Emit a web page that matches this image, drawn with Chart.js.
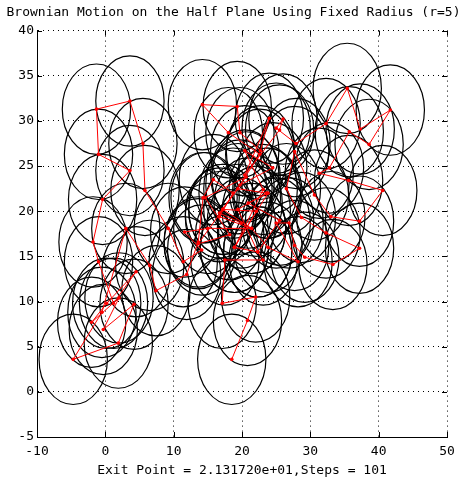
<!DOCTYPE html>
<html>
<head>
<meta charset="utf-8">
<script src="https://cdn.jsdelivr.net/npm/chart.js@4/dist/chart.umd.min.js"></script>
<style>
  html, body { margin: 0; padding: 0; background: #fff; }
  #wrap { width: 467px; height: 480px; }
</style>
</head>
<body>
<div id="wrap"><canvas id="chart" width="467" height="480"></canvas></div>
<script>
// walk positions
const pathX = [19.9, 16.7, 20.6, 14.6, 18.2, 13.6, 17.2, 19.4, 23.6, 19.4,
  22.3, 18.9, 23.1, 20.4, 24.5, 19.7, 22.6, 18.0, 14.2, 19.3,
  19.7, 22.7, 24.0, 20.4, 25.5, 26.0, 25.0, 27.9, 32.3, 35.4,
  37.3, 41.7, 38.6, 35.7, 32.8, 31.3, 35.6, 40.6, 37.2, 33.0,
  30.6, 27.7, 26.5, 28.7, 32.3, 37.2, 33.3, 29.2, 27.7, 26.9,
  25.0, 28.2, 23.8, 21.4, 15.0, 11.6, 14.1, 11.4, 9.2, 5.8,
  5.5, 3.6, -1.3, -1.0, 3.6, -0.4, -1.8, -1.0, 1.2, 4.5,
  0.2, -2.0, 2.0, -0.3, 4.2, 1.9, -4.7, -0.5, 3.0, 6.5,
  7.4, 11.9, 13.6, 14.3, 15.8, 18.7, 16.7, 21.4, 17.2, 22.1,
  18.9, 23.8, 20.9, 25.5, 22.3, 23.1, 17.5, 17.1, 22.0, 20.8,
  18.5];
const pathY = [18.7, 19.8, 23.8, 21.5, 17.4, 16.4, 20.2, 22.5, 22.0, 20.2,
  15.5, 16.0, 22.4, 26.7, 24.8, 22.9, 26.3, 28.7, 31.8, 31.6,
  28.7, 26.7, 30.3, 24.0, 29.0, 30.2, 29.2, 27.5, 29.7, 33.6,
  29.1, 31.2, 27.4, 28.8, 24.8, 24.2, 23.4, 22.3, 18.9, 19.4,
  21.8, 26.6, 22.5, 19.3, 17.6, 15.9, 14.1, 14.9, 16.2, 18.7,
  18.7, 14.4, 16.0, 18.1, 18.1, 17.7, 15.7, 14.4, 18.1, 22.3,
  27.5, 32.2, 31.3, 26.3, 24.5, 21.3, 16.6, 14.4, 9.8, 13.3,
  9.8, 7.7, 10.4, 6.9, 9.7, 5.4, 3.6, 8.8, 18.1, 14.0,
  11.2, 13.0, 16.6, 21.5, 23.5, 22.0, 19.4, 18.1, 20.2, 20.0,
  16.0, 22.0, 20.9, 19.0, 15.5, 14.6, 14.6, 9.8, 10.5, 7.9,
  3.6];
const radius = 5;

const xTicks = [-10, 0, 10, 20, 30, 40, 50];
const yTicks = [-5, 0, 5, 10, 15, 20, 25, 30, 35, 40];

const titleText = "Brownian Motion on the Half Plane Using Fixed Radius (r=5)";
const xLabel = "Exit Point = 2.131720e+01,Steps = 101";

const monoFont = { family: "'DejaVu Sans Mono', monospace", size: 13, weight: "normal" };

const points = pathX.map((x, i) => ({ x: x, y: pathY[i] }));

// circle of radius r round every position, sized by the scales
const circlePlugin = {
  id: "circles",
  beforeDatasetsDraw(chart) {
    const { ctx, chartArea, scales } = chart;
    const xs = scales.x, ys = scales.y;
    ctx.save();
    ctx.beginPath();
    ctx.rect(chartArea.left, chartArea.top, chartArea.width, chartArea.height);
    ctx.clip();
    ctx.strokeStyle = "#000";
    ctx.lineWidth = 1.2;
    points.forEach(p => {
      const cx = xs.getPixelForValue(p.x);
      const cy = ys.getPixelForValue(p.y);
      const rx = xs.getPixelForValue(p.x + radius) - cx;
      const ry = cy - ys.getPixelForValue(p.y + radius);
      ctx.beginPath();
      ctx.ellipse(cx, cy, rx, ry, 0, 0, Math.PI * 2);
      ctx.stroke();
    });
    ctx.restore();
  }
};

// small tick marks pointing into the plot
const tickPlugin = {
  id: "innerTicks",
  afterDraw(chart) {
    const { ctx, chartArea: a, scales } = chart;
    const len = 5;
    ctx.save();
    ctx.strokeStyle = "#000";
    ctx.lineWidth = 1;
    ctx.beginPath();
    xTicks.forEach(v => {
      const px = Math.round(scales.x.getPixelForValue(v)) + 0.5;
      ctx.moveTo(px, a.bottom); ctx.lineTo(px, a.bottom - len);
      ctx.moveTo(px, a.top); ctx.lineTo(px, a.top + len);
    });
    yTicks.forEach(v => {
      const py = Math.round(scales.y.getPixelForValue(v)) + 0.5;
      ctx.moveTo(a.left, py); ctx.lineTo(a.left + len, py);
      ctx.moveTo(a.right, py); ctx.lineTo(a.right - len, py);
    });
    ctx.stroke();
    ctx.restore();
  }
};

const chart = new Chart(document.getElementById("chart"), {
  type: "scatter",
  data: {
    datasets: [{
      data: points,
      showLine: true,
      borderColor: "#ff0000",
      borderWidth: 1,
      pointRadius: 1.8,
      pointBackgroundColor: "#ff0000",
      pointBorderWidth: 0,
      tension: 0
    }]
  },
  options: {
    responsive: false,
    animation: false,
    devicePixelRatio: 1,
    layout: { padding: 0 },
    plugins: {
      legend: { display: false },
      tooltip: { enabled: false },
      title: {
        display: true,
        text: titleText,
        color: "#000",
        font: monoFont,
        padding: { top: 5, bottom: 10 }
      }
    },
    scales: {
      x: {
        type: "linear",
        min: -10,
        max: 50,
        afterBuildTicks: s => { s.ticks = xTicks.map(v => ({ value: v })); },
        afterFit: s => { s.height = 43; },
        grid: { color: "#000", lineWidth: 1, drawTicks: false },
        border: { display: true, color: "#000", width: 1, dash: [1, 4] },
        ticks: { color: "#000", font: monoFont, padding: 7, maxRotation: 0 },
        title: { display: true, text: xLabel, color: "#000", font: monoFont, padding: { top: 0, bottom: 2 } }
      },
      y: {
        type: "linear",
        min: -5,
        max: 40,
        afterBuildTicks: s => { s.ticks = yTicks.map(v => ({ value: v })); },
        afterFit: s => { s.width = 37; },
        grid: { color: "#000", lineWidth: 1, drawTicks: false },
        border: { display: true, color: "#000", width: 1, dash: [1, 4] },
        ticks: { color: "#000", font: monoFont, padding: 3 }
      },
      // empty right margin
      yRight: {
        type: "linear",
        position: "right",
        min: -5,
        max: 40,
        afterFit: s => { s.width = 20; },
        grid: { display: false },
        border: { display: false },
        ticks: { display: false }
      }
    }
  },
  plugins: [circlePlugin, tickPlugin]
});
</script>
</body>
</html>
